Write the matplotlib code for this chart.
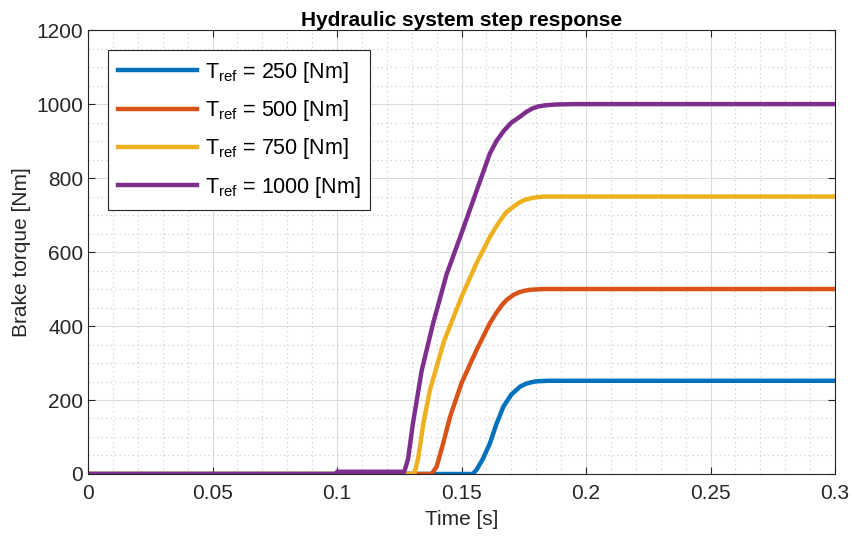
import numpy as np
import matplotlib
matplotlib.use('Agg')
from matplotlib import pyplot as plt
from matplotlib.ticker import MultipleLocator

plt.rcParams['font.family'] = ['Liberation Sans', 'DejaVu Sans']
plt.rcParams['mathtext.fontset'] = 'custom'
plt.rcParams['mathtext.rm'] = 'Liberation Sans'
plt.rcParams['mathtext.it'] = 'Liberation Sans'

# data
t_250 = [0, 0.1545, 0.156, 0.1585, 0.1614, 0.164, 0.1668, 0.170, 0.1735, 0.1755, 0.1775,
         0.1795, 0.1815, 0.185, 0.19, 0.3]
T_250 = [0, 0, 11, 40, 83, 135, 182, 215, 236, 243, 247, 250, 251, 252, 252, 252]

t_500 = [0, 0.138, 0.140, 0.1425, 0.1454, 0.150, 0.156, 0.1614, 0.164, 0.166, 0.168, 0.1708,
         0.173, 0.175, 0.1775, 0.180, 0.183, 0.188, 0.3]
T_500 = [0, 0, 20, 80, 155, 246, 335, 408, 436, 455, 470, 484, 491, 495, 498, 499, 500, 500, 500]

t_750 = [0, 0.131, 0.1325, 0.1347, 0.1373, 0.143, 0.150, 0.156, 0.1614, 0.164, 0.166, 0.168,
         0.1707, 0.173, 0.175, 0.1775, 0.180, 0.183, 0.188, 0.3]
T_750 = [0, 0, 40, 138, 227, 360, 479, 570, 641, 670, 690, 708, 722, 733, 740, 745, 748, 750,
         750, 750]

t_1000 = [0, 0.1, 0.1, 0.127, 0.1285, 0.1305, 0.134, 0.1386, 0.144, 0.150, 0.156, 0.1614,
          0.164, 0.167, 0.170, 0.1735, 0.176, 0.1787, 0.181, 0.184, 0.188, 0.195, 0.3]
T_1000 = [0, 0, 6, 6, 40, 138, 280, 408, 540, 651, 765, 867, 900, 928, 950, 966, 979, 989,
          994, 997, 999, 1000, 1000]

series = [(t_250, T_250, 250), (t_500, T_500, 500), (t_750, T_750, 750), (t_1000, T_1000, 1000)]
colors = ['#0072BD', '#D95319', '#EDB120', '#7E2F8E']

x_ticks = [0, 0.05, 0.1, 0.15, 0.2, 0.25, 0.3]
x_labels = ['0', '0.05', '0.1', '0.15', '0.2', '0.25', '0.3']

fig = plt.figure(figsize=(8.53, 5.38), dpi=100)
ax = fig.add_axes([0.1032, 0.119, 0.8758, 0.825])

for (t, T, ref), c in zip(series, colors):
    ax.plot(t, T, color=c, linewidth=3.2, solid_joinstyle='round',
            label=r'$\mathregular{T_{ref}}$ = %d [Nm]' % ref)

ax.set_xlim(0, 0.3)
ax.set_ylim(0, 1200)
ax.set_xticks(x_ticks)
ax.set_xticklabels(x_labels)
ax.yaxis.set_major_locator(MultipleLocator(200))
ax.xaxis.set_minor_locator(MultipleLocator(0.01))
ax.yaxis.set_minor_locator(MultipleLocator(50))
ax.grid(which='major', color='#dcdcdc', linewidth=0.8)
ax.grid(which='minor', color='#c8c8c8', linestyle=(0, (1, 3)), linewidth=0.8)
ax.set_axisbelow(True)
ax.tick_params(which='major', direction='in', top=True, right=True, labelsize=15, length=5,
               color='#262626', labelcolor='#262626')
ax.tick_params(axis='x', which='major', pad=7)
ax.tick_params(which='minor', length=0)
for s in ax.spines.values():
    s.set_color('#262626')

ax.set_title('Hydraulic system step response', fontsize=15, fontweight='bold', pad=3)
ax.set_xlabel('Time [s]', fontsize=15, labelpad=5, color='#262626')
ax.set_ylabel('Brake torque [Nm]', fontsize=15, labelpad=4, color='#262626')

leg = ax.legend(loc='upper left', bbox_to_anchor=(0.0268, 0.955), borderaxespad=0,
                fontsize=15.5, fancybox=False, framealpha=1, edgecolor='#262626',
                handlelength=3.7, borderpad=0.45, labelspacing=0.62, handletextpad=0.35)
leg.get_frame().set_linewidth(0.8)

fig.savefig('out.png', dpi=100)
